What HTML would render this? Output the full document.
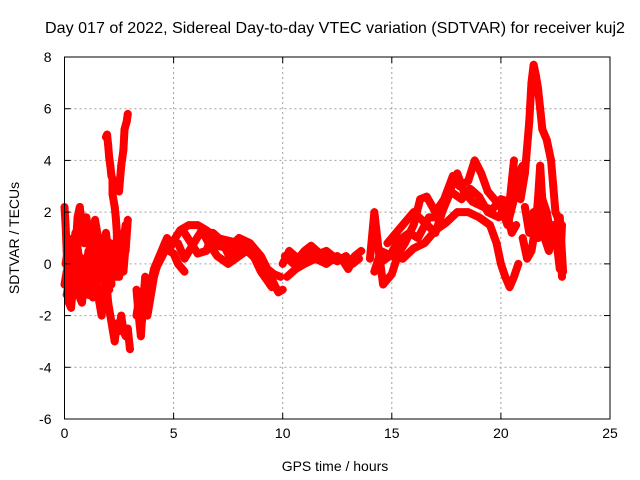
<!DOCTYPE html>
<html><head><meta charset="utf-8"><style>
body{margin:0;background:#fff;}
svg{display:block;font-family:"Liberation Sans",sans-serif;}
</style></head><body>
<svg id="chart" width="640" height="480" viewBox="0 0 640 480">
<text x="335" y="33" font-size="16" textLength="580" lengthAdjust="spacingAndGlyphs" text-anchor="middle">Day 017 of 2022, Sidereal Day-to-day VTEC variation (SDTVAR) for receiver kuj2</text>
<text x="335" y="471" font-size="14" text-anchor="middle">GPS time / hours</text>
<text transform="translate(19,238) rotate(-90)" font-size="14" text-anchor="middle">SDTVAR / TECUs</text>
<g id="grid"></g><g id="marks"></g><g id="axes"></g>
</svg>
<script>
const xTicks=[0,5,10,15,20,25];
const yTicks=[-6,-4,-2,0,2,4,6,8];
const sA=[[0,2.2],[0.05,1.5],[0.1,0.5],[0.15,-0.8],[0.2,-1],[0.3,0.3],[0.4,1],[0.5,0.5],[0.6,1.8],[0.7,2.2],[0.8,1.5],[0.9,0.8],[1.0,1.8],[1.1,1.2],[1.2,0.2],[1.3,1],[1.4,1.7],[1.5,1.2],[1.6,0.5],[1.7,1],[1.8,0.2],[1.9,1.2],[2.0,0.5]];
const sA2=[[0.05,0],[0.2,0.8],[0.35,-0.3],[0.5,1.2],[0.65,0.3],[0.8,0.2],[0.95,-0.4],[1.1,0.5],[1.25,-0.3],[1.4,0.6],[1.55,-0.5],[1.7,-0.2],[1.85,-0.8],[2.0,-0.3],[2.1,0.8],[2.15,-0.8]];
const sA3=[[0.1,-1.2],[0.25,-0.5],[0.4,-1.2],[0.55,-0.7],[0.7,0.2],[0.85,-0.9],[1.0,0.2],[1.15,-0.3],[1.3,0.3],[1.45,-0.8],[1.6,-0.1],[1.75,0.6],[1.9,-0.4],[2.05,-1]];
const sB=[[0,-0.8],[0.1,-0.3],[0.2,-1.5],[0.3,-1.7],[0.4,-0.8],[0.5,-1.2],[0.6,-0.3],[0.7,-1.3],[0.8,-1.5],[0.9,-0.8],[1.0,-0.5],[1.1,-1.2],[1.2,-0.6],[1.3,-1.3],[1.4,-0.2],[1.5,-1],[1.6,-1.5],[1.7,-2],[1.8,-1.2],[1.9,-0.5],[2.0,-1.5],[2.1,-2],[2.2,-2.5],[2.3,-3],[2.4,-2.3],[2.5,-2.6],[2.6,-2],[2.7,-2.6],[2.8,-2.8],[2.9,-2.5],[3.0,-3.3]];
const sC=[[1.9,4.9],[1.95,5],[2.0,4.6],[2.05,4.1],[2.1,3.8],[2.15,3.4],[2.2,3.3],[2.2,2.7],[2.3,2.2],[2.35,1.8],[2.4,1.2],[2.4,0.5],[2.5,-0.5],[2.6,0],[2.7,0.8],[2.8,1.5]];
const sD=[[2.5,2.8],[2.6,3.8],[2.7,4.4],[2.75,5.2],[2.85,5.5],[2.9,5.8]];
const sD2=[[2.4,-0.5],[2.5,0.3],[2.6,0.9],[2.7,1.2],[2.8,0.5],[2.9,1.7],[2.7,-0.3]];
const sE=[[3.3,-1],[3.4,-2],[3.5,-2.8],[3.6,-1.5],[3.7,-0.5],[3.8,-2],[3.9,-1.5],[4.0,-1],[4.1,-0.5],[4.2,-0.2],[4.4,0.3],[4.6,0.8],[4.8,0.5],[5.0,0.4],[5.2,0],[5.5,-0.3]];
const sE2=[[3.3,-2],[3.45,-1.2],[3.55,-2.2],[3.7,-1],[3.8,-1.5],[3.95,-0.8],[4.1,-0.2],[4.3,0.2],[4.5,0.6],[4.7,1],[4.9,0.7]];
const sIso=[[3.6,-3.4],[3.6,-4.65],[0.05,4.05],[2.2,-3.5],[2.9,-3.3]];
const sF=[[4.3,0],[4.6,0.5],[5,0.9],[5.3,1.3],[5.7,1.5],[6.1,1.5],[6.5,1.3],[7,1],[7.5,0.9],[8,0.8],[8.5,0.4],[9,0],[9.5,-0.6],[9.8,-1.1],[10,-1]];
const sG=[[5.2,0.8],[5.5,0.2],[6,0.9],[6.3,1.3],[6.6,0.8],[7,0.3],[7.5,0],[8,0.3],[8.5,0.6],[9,-0.3],[9.5,-0.9]];
const sH=[[5.5,1.2],[5.8,0.8],[6.1,0.4],[6.5,0.5],[6.8,1.2],[7.2,0.9],[7.6,0.2],[8,0.7]];
const sH2=[[6.5,1],[7,0.7],[7.5,0.6],[8,1],[8.5,0.8],[9,0.3],[9.3,-0.2],[9.6,-0.4],[9.9,-0.5]];
const sI=[[10,0],[10.3,0.5],[10.7,0.2],[11,0.5],[11.3,0.7],[11.7,0.4],[12,0.5],[12.3,0.3],[12.7,0.2],[13,-0.2],[13.3,0.3],[13.6,0.5]];
const sJ=[[10.2,-0.5],[10.6,-0.2],[11,0],[11.5,0.2],[12,0],[12.5,0.3],[13,0]];
const sJ2=[[10.1,0.3],[10.5,0],[11,0.2],[11.5,0.5],[12,0.3],[12.5,0.1],[12.9,0.3],[13.2,0],[13.5,0.2]];
const sK=[[14,0.2],[14.2,2],[14.4,0.5],[14.6,-0.8],[15,-0.4],[15.3,0.4],[15.6,0.8],[16,1.5],[16.3,2.5],[16.6,2.6],[17,2],[17.4,2.5],[17.8,3.4],[18.1,3.0],[18.5,3.2],[18.8,4],[19.1,3.5],[19.4,2.8],[19.7,2.5],[20,2.2],[20.3,1.5],[20.6,2.5],[20.8,3.5],[21,3.8]];
const sL=[[14.2,-0.3],[14.5,0.5],[15,0.3],[15.5,0.2],[16,0.6],[16.5,0.8],[17,1.3],[17.5,1.6],[18,2],[18.5,2],[19,1.8],[19.5,1.5],[19.8,0.8],[20,0],[20.2,-0.5],[20.4,-0.9],[20.6,-0.5],[20.8,0]];
const sM=[[14.8,0.8],[15.2,1.2],[15.6,1.6],[16,2],[16.5,1.6],[17,1.2],[17.5,2.5],[18,3.5],[18.3,2.8],[18.7,2.4],[19.2,2.2],[19.6,2.1],[20,2.5],[20.4,2.4],[20.6,4]];
const sM2=[[14.4,0],[14.9,0.3],[15.3,0.9],[15.8,1.2],[16.2,1],[16.7,1.8],[17.2,1.8],[17.7,2.8],[18.2,2.5],[18.6,2.9],[19,2.6],[19.4,2],[19.9,1.8],[20.2,2.2],[20.5,1.2],[20.7,1.5]];
const sN=[[20.9,2.5],[21.1,3.5],[21.3,5.5],[21.4,7],[21.5,7.7],[21.6,7.3],[21.7,6.8],[21.8,6],[21.9,5.2],[22.1,4.8],[22.3,4],[22.4,3],[22.5,2],[22.6,1.8],[22.7,1],[22.8,-0.5]];
const sO=[[21,1],[21.2,0.2],[21.4,0.5],[21.6,1.5],[21.7,2.5],[21.8,3.8],[22,1],[22.2,0.5],[22.4,1.5],[22.6,0.5],[22.7,-0.2],[22.8,1.5]];
const sO2=[[21.1,2.2],[21.3,1.2],[21.5,2],[21.7,1],[21.9,2.5],[22.1,2],[22.3,1],[22.5,0.8],[22.7,1.8],[22.85,-0.3]];
const series=[sA,sA2,sA3,sB,sC,sD,sD2,sE,sE2,sF,sG,sH,sH2,sI,sJ,sJ2,sK,sL,sM,sM2,sN,sO,sO2];

const X0=64.5,X1=610,Y0=419,Y1=57;
const xs=v=>X0+(v-0)/(25-0)*(X1-X0);
const ys=v=>Y0-(v+6)/(14)*(Y0-Y1);
const NS="http://www.w3.org/2000/svg";
function mk(t,a,p){const e=document.createElementNS(NS,t);for(const k in a)e.setAttribute(k,a[k]);p.appendChild(e);return e;}
const grid=document.getElementById('grid'),axes=document.getElementById('axes'),marks=document.getElementById('marks');
xTicks.forEach(t=>{const x=xs(t);
 if(t>0&&t<25){const g=mk('line',{x1:x,x2:x,y1:Y1,y2:Y0,stroke:'#a0a0a0','stroke-dasharray':'2,3'},grid);
 
 }
 const l=mk('text',{x:x,y:Y0+19,'font-size':14,'text-anchor':'middle'},axes);l.textContent=t;
 
 
 mk('line',{x1:x,x2:x,y1:Y0,y2:Y0-6,stroke:'#000'},axes);mk('line',{x1:x,x2:x,y1:Y1,y2:Y1+6,stroke:'#000'},axes);});
yTicks.forEach(t=>{const y=ys(t);
 if(t>-6&&t<8){const g=mk('line',{x1:X0,x2:X1,y1:y,y2:y,stroke:'#a0a0a0','stroke-dasharray':'2,3'},grid);
 
 }
 const l=mk('text',{x:X0-13,y:y+5,'font-size':14,'text-anchor':'end'},axes);l.textContent=t;
 
 
 mk('line',{x1:X0,x2:X0+6,y1:y,y2:y,stroke:'#000'},axes);mk('line',{x1:X1,x2:X1-6,y1:y,y2:y,stroke:'#000'},axes);});
const fr=mk('rect',{x:X0,y:Y1,width:X1-X0,height:Y0-Y1,fill:'none',stroke:'#000'},axes);


series.forEach((s,i)=>{
 if(s!==sIso){const pl=mk('polyline',{points:s.map(p=>xs(p[0])+','+ys(p[1])).join(' '),fill:'none',stroke:'#ff0000','stroke-width':8,'stroke-linejoin':'round','stroke-linecap':'round'},marks);
 
 }
 s.forEach(p=>{const x=xs(p[0]),y=ys(p[1]);
  const c=mk('path',{d:`M${x-4},${y}H${x+4}M${x},${y-4}V${y+4}`,stroke:'#ff0000','stroke-width':1.2},marks);
  
  });
});
</script>
</body></html>
